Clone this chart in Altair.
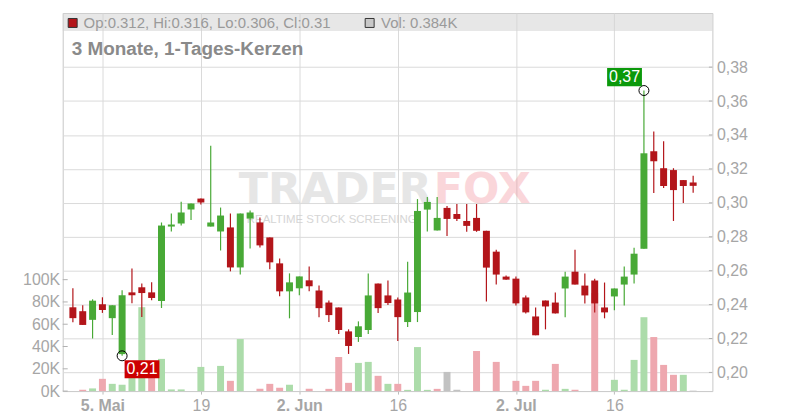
import altair as alt
import pandas as pd

# ---------------- data ----------------
idx = list(range(64))
open_ = [0.2384, 0.2361, 0.2310, 0.2402, 0.2320, 0.2108, 0.2472, 0.2502, 0.2472, 0.2421,
         0.2860, 0.2878, 0.2960, 0.3025, 0.2860, 0.2831, 0.2855, 0.2619, 0.2907, 0.2884,
         0.2796, 0.2643, 0.2478, 0.2496, 0.2543, 0.2483, 0.2412, 0.2383, 0.2242, 0.2209,
         0.2250, 0.2524, 0.2454, 0.2430, 0.2297, 0.2356, 0.2960, 0.2837, 0.2970, 0.2934,
         0.2893, 0.2911, 0.2835, 0.2712, 0.2565, 0.2553, 0.2442, 0.2330, 0.2424, 0.2412,
         0.2495, 0.2594, 0.2512, 0.2542, 0.2383, 0.2448, 0.2518, 0.2577, 0.2729, 0.3304,
         0.3204, 0.3193, 0.3134, 0.3120]
high = [0.2496, 0.2396, 0.2431, 0.2443, 0.2396, 0.2484, 0.2613, 0.2525, 0.2531, 0.2884,
        0.2937, 0.3007, 0.2996, 0.3025, 0.3337, 0.2972, 0.2937, 0.2937, 0.2955, 0.2913,
        0.2796, 0.2672, 0.2584, 0.2566, 0.2625, 0.2512, 0.2424, 0.2383, 0.2254, 0.2301,
        0.2583, 0.2524, 0.2542, 0.2442, 0.2653, 0.3022, 0.3034, 0.3034, 0.2981, 0.2993,
        0.2993, 0.2993, 0.2835, 0.2723, 0.2571, 0.2565, 0.2454, 0.2383, 0.2424, 0.2471,
        0.2594, 0.2723, 0.2583, 0.2553, 0.2530, 0.2495, 0.2624, 0.2735, 0.3662, 0.3421,
        0.3363, 0.3204, 0.3134, 0.3160]
low = [0.2296, 0.2280, 0.2200, 0.2351, 0.2221, 0.2098, 0.2408, 0.2327, 0.2425, 0.2380,
       0.2831, 0.2866, 0.2898, 0.2990, 0.2860, 0.2719, 0.2596, 0.2578, 0.2731, 0.2737,
       0.2608, 0.2449, 0.2319, 0.2455, 0.2478, 0.2326, 0.2297, 0.2227, 0.2109, 0.2180,
       0.2227, 0.2350, 0.2397, 0.2186, 0.2268, 0.2297, 0.2831, 0.2837, 0.2805, 0.2893,
       0.2829, 0.2829, 0.2418, 0.2518, 0.2547, 0.2395, 0.2348, 0.2219, 0.2254, 0.2348,
       0.2326, 0.2518, 0.2407, 0.2354, 0.2319, 0.2366, 0.2395, 0.2524, 0.2729, 0.3058,
       0.3087, 0.2893, 0.2999, 0.3060]
close = [0.2320, 0.2280, 0.2423, 0.2368, 0.2396, 0.2455, 0.2455, 0.2468, 0.2439, 0.2866,
         0.2872, 0.2943, 0.2996, 0.3002, 0.2884, 0.2925, 0.2619, 0.2937, 0.2943, 0.2749,
         0.2649, 0.2478, 0.2531, 0.2566, 0.2508, 0.2379, 0.2338, 0.2250, 0.2156, 0.2272,
         0.2454, 0.2379, 0.2409, 0.2326, 0.2471, 0.2952, 0.3005, 0.2911, 0.2905, 0.2905,
         0.2864, 0.2835, 0.2618, 0.2577, 0.2547, 0.2407, 0.2354, 0.2219, 0.2389, 0.2348,
         0.2565, 0.2518, 0.2454, 0.2407, 0.2354, 0.2495, 0.2565, 0.2700, 0.3292, 0.3245,
         0.3099, 0.3075, 0.3099, 0.3100]
volume = [0, 1200, 2400, 11000, 6500, 5700, 18000, 75300, 14000, 28900,
          1500, 1500, 0, 21700, 0, 22600, 9200, 46700, 0, 2100,
          6500, 3000, 5700, 0, 2100, 0, 2000, 30600, 7400, 25300,
          26200, 13700, 6500, 6500, 1100, 39500, 1100, 2000, 17200, 1200,
          0, 36000, 0, 26200, 0, 9200, 4700, 9200, 1200, 24400,
          2000, 1200, 0, 88000, 0, 10100, 1200, 28000, 66300, 48500,
          23500, 14600, 14600, 384]
vol_dir = ["f", "d", "u", "d", "u", "u", "u", "u", "d", "u",
           "u", "u", "f", "u", "f", "u", "d", "u", "f", "d",
           "d", "d", "u", "f", "d", "f", "d", "d", "d", "u",
           "u", "d", "u", "d", "u", "u", "u", "d", "f", "f",
           "f", "d", "f", "d", "f", "d", "d", "d", "u", "d",
           "u", "d", "f", "d", "f", "u", "u", "u", "u", "d",
           "d", "d", "u", "f"]

x_tick_idx = [3, 13, 23, 33, 45, 55]
x_tick_lab = ["5. Mai", "19", "2. Jun", "16", "2. Jul", "16"]
x_tick_bold = [3, 23, 45]
price_ticks = [0.20, 0.22, 0.24, 0.26, 0.28, 0.30, 0.32, 0.34, 0.36, 0.38]
vol_ticks = [0, 20000, 40000, 60000, 80000, 100000]

ann_idx = [5, 58]
ann_price = [0.2098, 0.3662]
ann_text = ["0,21", "0,37"]

# ---------------- styling ----------------
W, H = 653, 380
FONT = "Liberation Sans"
GREEN = "#48a936"
RED = "#b3151a"
LBL = "#a6a6a6"
GRID = "#dadada"

df = pd.DataFrame({"i": idx, "o": open_, "h": high, "l": low, "c": close,
                   "v": volume, "d": vol_dir})

xscale = alt.Scale(domain=[-0.527, 64.45], nice=False, zero=False)
pscale = alt.Scale(domain=[0.1890, 0.4119], nice=False, zero=False)
vscale = alt.Scale(domain=[0, 339300], nice=False, zero=False)

label_expr = " : ".join(
    f"datum.value == {v} ? '{t}'" for v, t in zip(x_tick_idx, x_tick_lab)
) + " : ''"
bold_test = " || ".join(f"datum.value == {v}" for v in x_tick_bold)

x_axis = alt.Axis(values=x_tick_idx, labelExpr=label_expr, grid=True, gridColor=GRID,
                  domain=False, tickSize=3, tickColor="#bbbbbb", labelPadding=4,
                  labelFontSize=16, labelFont=FONT, labelColor=LBL,
                  labelFontWeight={"condition": {"test": bold_test, "value": "bold"},
                                   "value": "normal"},
                  title=None)
v_axis = alt.Axis(orient="left", values=vol_ticks, grid=False, domain=False,
                  tickSize=0, labelPadding=3,
                  labelExpr="format(datum.value/1000, 'd') + 'K'",
                  labelFontSize=16, labelFont=FONT, labelColor=LBL, title=None)
p_axis = alt.Axis(orient="right", values=price_ticks, grid=True, gridColor=GRID,
                  domain=False, tickSize=0, labelPadding=4,
                  labelExpr="replace(format(datum.value, '.2f'), '.', ',')",
                  labelFontSize=16, labelFont=FONT, labelColor=LBL, title=None)


def X():
    return alt.X("i:Q", scale=xscale, axis=x_axis)


def PY(field):
    return alt.Y(field, scale=pscale, axis=p_axis)


one = pd.DataFrame({"a": [0]})

# header band
band = alt.Chart(one).mark_rect(color="#d4d4d4", opacity=0.55).encode(
    x=alt.value(0), x2=alt.value(W), y=alt.value(0), y2=alt.value(18))

# watermark
wm1 = alt.Chart(one).mark_text(text="TRADER", fontSize=43, fontWeight="bold",
                               font="DejaVu Sans", align="left", baseline="middle",
                               color="#c4c4c4", opacity=0.42).encode(
    x=alt.value(177), y=alt.value(178))
wm2 = alt.Chart(one).mark_text(text="FOX", fontSize=43, fontWeight="bold",
                               font="DejaVu Sans", align="left", baseline="middle",
                               color="#f0707e", opacity=0.28).encode(
    x=alt.value(373), y=alt.value(178))
wm3 = alt.Chart(one).mark_text(text="REALTIME STOCK SCREENING", fontSize=11.5, font=FONT,
                               align="left", baseline="middle",
                               color="#cccccc", opacity=0.8).encode(
    x=alt.value(185), y=alt.value(208))

# volume group
vbars = alt.Chart(df).mark_bar(size=7).encode(
    x=X(),
    y=alt.Y("v:Q", scale=vscale, axis=v_axis),
    color=alt.Color("d:N", scale=alt.Scale(domain=["u", "d", "f"],
                                           range=["#acdcaa", "#eea8af", "#c2c2c2"]),
                    legend=None))
vticks = alt.Chart(pd.DataFrame({"t": vol_ticks})).mark_rule(color="#b0b0b0").encode(
    y=alt.Y("t:Q", scale=vscale, axis=v_axis), x=alt.value(0), x2=alt.value(5))
vol_group = alt.layer(vbars, vticks)

# price group
candle_color = alt.condition("datum.c >= datum.o", alt.value(GREEN), alt.value(RED))
wicks = alt.Chart(df).mark_rule(strokeWidth=1.2).encode(
    x=X(), y=PY("l:Q"), y2="h:Q", color=candle_color)
bodies = alt.Chart(df).mark_bar(size=7).encode(
    x=X(), y=PY("o:Q"), y2="c:Q", color=candle_color)
pticks = alt.Chart(pd.DataFrame({"t": price_ticks})).mark_rule(color="#b0b0b0").encode(
    y=PY("t:Q"), x=alt.value(W - 3.5), x2=alt.value(W))

ann = pd.DataFrame({"i": ann_idx, "p": ann_price, "t": ann_text})
ann_lo = ann.iloc[[0]]
ann_hi = ann.iloc[[1]]
circles = alt.Chart(ann).mark_point(shape="circle", size=100, filled=False,
                                    color="black", strokeWidth=1, opacity=1).encode(
    x=X(), y=PY("p:Q"))
lo_box = alt.Chart(ann_lo).mark_rect(color="#cc0000", xOffset=2.5, x2Offset=37.5,
                                     yOffset=4.5, y2Offset=22.5).encode(
    x=X(), x2="i:Q", y=PY("p:Q"), y2="p:Q")
lo_txt = alt.Chart(ann_lo).mark_text(color="white", fontSize=16, font=FONT, dx=20,
                                     dy=13.5, align="center", baseline="middle").encode(
    x=X(), y=PY("p:Q"), text="t:N")
hi_box = alt.Chart(ann_hi).mark_rect(color="#0b990b", xOffset=-37, x2Offset=-2,
                                     yOffset=-22.6, y2Offset=-4.2).encode(
    x=X(), x2="i:Q", y=PY("p:Q"), y2="p:Q")
hi_txt = alt.Chart(ann_hi).mark_text(color="white", fontSize=16, font=FONT, dx=-19.5,
                                     dy=-13.4, align="center", baseline="middle").encode(
    x=X(), y=PY("p:Q"), text="t:N")
price_group = alt.layer(wicks, bodies, pticks, circles, lo_box, lo_txt, hi_box, hi_txt)

# header legend and title
leg_txt = (f"Op:{open_[-1]:g}, Hi:{high[-1]:g}, Lo:{low[-1]:g}, Cl:{close[-1]:g}")
vol_txt = f"Vol: {volume[-1] / 1000:g}K"
sq1 = alt.Chart(one).mark_rect(color=RED, stroke="#333333", strokeWidth=1).encode(
    x=alt.value(5.5), x2=alt.value(14.5), y=alt.value(5.5), y2=alt.value(14.5))
sq2 = alt.Chart(one).mark_rect(color="#c8c8c8", stroke="#333333", strokeWidth=1).encode(
    x=alt.value(304), x2=alt.value(313), y=alt.value(5.5), y2=alt.value(14.5))
t1 = alt.Chart(one).mark_text(text=leg_txt, fontSize=15, font=FONT, color="#9a9a9a",
                              align="left", baseline="middle").encode(
    x=alt.value(21), y=alt.value(10))
t2 = alt.Chart(one).mark_text(text=vol_txt, fontSize=15, font=FONT, color="#9a9a9a",
                              align="left", baseline="middle").encode(
    x=alt.value(320), y=alt.value(10))
title = alt.Chart(one).mark_text(text="3 Monate, 1-Tages-Kerzen", fontSize=19,
                                 fontWeight="bold", font=FONT, color="#8a8a8a",
                                 align="left", baseline="middle").encode(
    x=alt.value(9), y=alt.value(36))

chart = alt.layer(
    band, wm1, wm2, wm3, vol_group, price_group, sq1, sq2, t1, t2, title
).resolve_scale(y="independent").properties(
    width=W, height=H,
    padding={"left": 55, "top": 4, "right": 80, "bottom": 24},
    autosize=alt.AutoSizeParams(type="none"),
).configure_view(stroke="#c8c8c8")

chart.save("out.html", embed_options={"renderer": "svg", "actions": False})
